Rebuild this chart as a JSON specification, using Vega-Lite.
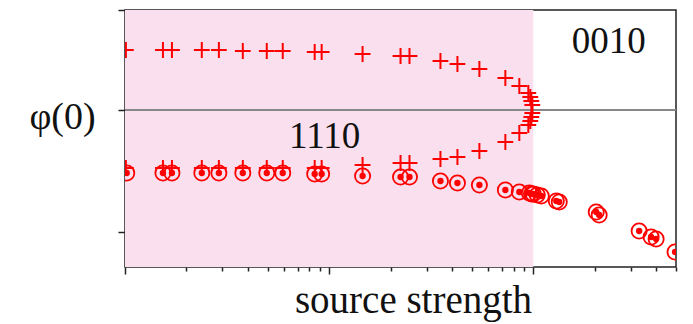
{
  "$schema": "https://vega.github.io/schema/vega-lite/v6.json",
  "width": 551,
  "height": 257,
  "autosize": {"type": "none"},
  "padding": {"left": 125, "top": 10, "right": 17, "bottom": 57},
  "background": "white",
  "config": {
    "view": {"stroke": "#222222", "strokeWidth": 1.5},
    "font": "Liberation Serif"
  },
  "datasets": {
    "pts": [
      {"s": 0.0101, "phi": 0.60, "kind": "plus"},
      {"s": 0.01534, "phi": 0.60, "kind": "plus"},
      {"s": 0.01698, "phi": 0.60, "kind": "plus"},
      {"s": 0.02378, "phi": 0.60, "kind": "plus"},
      {"s": 0.02883, "phi": 0.60, "kind": "plus"},
      {"s": 0.03776, "phi": 0.59, "kind": "plus"},
      {"s": 0.04948, "phi": 0.59, "kind": "plus"},
      {"s": 0.05925, "phi": 0.59, "kind": "plus"},
      {"s": 0.08494, "phi": 0.58, "kind": "plus"},
      {"s": 0.0919, "phi": 0.58, "kind": "plus"},
      {"s": 0.1458, "phi": 0.56, "kind": "plus"},
      {"s": 0.2237, "phi": 0.54, "kind": "plus"},
      {"s": 0.2475, "phi": 0.54, "kind": "plus"},
      {"s": 0.3509, "phi": 0.49, "kind": "plus"},
      {"s": 0.425, "phi": 0.46, "kind": "plus"},
      {"s": 0.5444, "phi": 0.41, "kind": "plus"},
      {"s": 0.7296, "phi": 0.32, "kind": "plus"},
      {"s": 0.8541, "phi": 0.24, "kind": "plus"},
      {"s": 0.9454, "phi": 0.17, "kind": "plus"},
      {"s": 0.9667, "phi": 0.13, "kind": "plus"},
      {"s": 0.9777, "phi": 0.09, "kind": "plus"},
      {"s": 0.9888, "phi": 0.05, "kind": "plus"},
      {"s": 0.9888, "phi": -0.03, "kind": "plus"},
      {"s": 0.9777, "phi": -0.07, "kind": "plus"},
      {"s": 0.9667, "phi": -0.11, "kind": "plus"},
      {"s": 0.9454, "phi": -0.15, "kind": "plus"},
      {"s": 0.8541, "phi": -0.23, "kind": "plus"},
      {"s": 0.7296, "phi": -0.32, "kind": "plus"},
      {"s": 0.5444, "phi": -0.41, "kind": "plus"},
      {"s": 0.425, "phi": -0.47, "kind": "plus"},
      {"s": 0.3509, "phi": -0.49, "kind": "plus"},
      {"s": 0.2475, "phi": -0.53, "kind": "plus"},
      {"s": 0.2237, "phi": -0.53, "kind": "plus"},
      {"s": 0.1458, "phi": -0.55, "kind": "plus"},
      {"s": 0.0919, "phi": -0.58, "kind": "plus"},
      {"s": 0.08494, "phi": -0.58, "kind": "plus"},
      {"s": 0.05925, "phi": -0.58, "kind": "plus"},
      {"s": 0.04948, "phi": -0.58, "kind": "plus"},
      {"s": 0.03776, "phi": -0.58, "kind": "plus"},
      {"s": 0.02883, "phi": -0.58, "kind": "plus"},
      {"s": 0.02378, "phi": -0.58, "kind": "plus"},
      {"s": 0.01698, "phi": -0.58, "kind": "plus"},
      {"s": 0.01534, "phi": -0.58, "kind": "plus"},
      {"s": 0.0101, "phi": -0.58, "kind": "plus"},
      {"s": 0.0102, "phi": -0.63, "kind": "circle"},
      {"s": 0.01534, "phi": -0.63, "kind": "circle"},
      {"s": 0.01698, "phi": -0.63, "kind": "circle"},
      {"s": 0.02378, "phi": -0.63, "kind": "circle"},
      {"s": 0.02883, "phi": -0.63, "kind": "circle"},
      {"s": 0.03776, "phi": -0.63, "kind": "circle"},
      {"s": 0.04948, "phi": -0.63, "kind": "circle"},
      {"s": 0.05925, "phi": -0.63, "kind": "circle"},
      {"s": 0.08494, "phi": -0.64, "kind": "circle"},
      {"s": 0.0919, "phi": -0.64, "kind": "circle"},
      {"s": 0.1458, "phi": -0.66, "kind": "circle"},
      {"s": 0.2237, "phi": -0.67, "kind": "circle"},
      {"s": 0.2475, "phi": -0.67, "kind": "circle"},
      {"s": 0.3509, "phi": -0.71, "kind": "circle"},
      {"s": 0.425, "phi": -0.73, "kind": "circle"},
      {"s": 0.5444, "phi": -0.75, "kind": "circle"},
      {"s": 0.7296, "phi": -0.80, "kind": "circle"},
      {"s": 0.8541, "phi": -0.82, "kind": "circle"},
      {"s": 0.956, "phi": -0.83, "kind": "circle"},
      {"s": 0.98, "phi": -0.84, "kind": "circle"},
      {"s": 1.0, "phi": -0.84, "kind": "circle"},
      {"s": 1.046, "phi": -0.85, "kind": "circle"},
      {"s": 1.094, "phi": -0.86, "kind": "circle"},
      {"s": 1.296, "phi": -0.91, "kind": "circle"},
      {"s": 1.34, "phi": -0.92, "kind": "circle"},
      {"s": 2.033, "phi": -1.02, "kind": "circle"},
      {"s": 2.102, "phi": -1.05, "kind": "circle"},
      {"s": 3.299, "phi": -1.21, "kind": "circle"},
      {"s": 3.776, "phi": -1.27, "kind": "circle"},
      {"s": 3.996, "phi": -1.29, "kind": "circle"},
      {"s": 4.947, "phi": -1.42, "kind": "circle"}
    ]
  },
  "data": {"name": "pts"},
  "encoding": {
    "x": {
      "field": "s",
      "type": "quantitative",
      "scale": {"type": "log", "domain": [0.01, 5], "nice": false},
      "axis": {
        "values": [0.01, 0.02, 0.03, 0.04, 0.05, 0.06, 0.07, 0.08, 0.09, 0.1, 0.2, 0.3, 0.4, 0.5, 0.6, 0.7, 0.8, 0.9, 1, 2, 3, 4, 5],
        "labels": false,
        "grid": false,
        "domain": false,
        "ticks": true,
        "tickColor": "#222222",
        "tickWidth": 1.5,
        "tickSize": {"condition": {"test": "datum.value == 0.01 || datum.value == 0.1 || datum.value == 1", "value": 7}, "value": 4},
        "title": "source strength",
        "titleFont": "Liberation Serif",
        "titleFontSize": 39,
        "titleFontWeight": "normal",
        "titleColor": "#111111",
        "titleX": 288,
        "titleY": 45,
        "titleBaseline": "alphabetic",
        "titleAlign": "center"
      }
    },
    "y": {
      "field": "phi",
      "type": "quantitative",
      "scale": {"domain": [-1.57, 1], "nice": false, "zero": false},
      "axis": {
        "values": [1, 0, -1.22],
        "labels": false,
        "grid": false,
        "domain": false,
        "tickColor": "#222222",
        "tickWidth": 1.5,
        "tickSize": 7,
        "title": "φ(0)",
        "titleFont": "Liberation Serif",
        "titleFontSize": 38,
        "titleFontWeight": "normal",
        "titleColor": "#111111",
        "titleAngle": 0,
        "titleX": -63,
        "titleY": 118,
        "titleBaseline": "alphabetic",
        "titleAlign": "center"
      }
    }
  },
  "layer": [
    {
      "data": {"values": [{"s": 0.01, "s2": 1.0, "phi": 1, "phi2": -1.57}]},
      "mark": {"type": "rect", "fill": "#fae0ee", "opacity": 1},
      "encoding": {
        "x2": {"field": "s2"},
        "y2": {"field": "phi2"}
      }
    },
    {
      "data": {"values": [{"s": 0.01, "s2": 5, "phi": 0}]},
      "mark": {"type": "rule", "color": "#888888", "strokeWidth": 2},
      "encoding": {
        "x2": {"field": "s2"}
      }
    },
    {
      "transform": [{"filter": "datum.kind == 'circle'"}],
      "mark": {"type": "point", "shape": "circle", "filled": false, "stroke": "#ff0000", "strokeWidth": 1.8, "size": 230, "opacity": 1, "clip": true}
    },
    {
      "transform": [{"filter": "datum.kind == 'circle'"}],
      "mark": {"type": "point", "shape": "circle", "filled": true, "color": "#ff0000", "size": 40, "opacity": 1, "clip": true}
    },
    {
      "transform": [{"filter": "datum.kind == 'plus'"}],
      "mark": {"type": "point", "shape": "M-1,0L1,0M0,-1L0,1", "filled": false, "stroke": "#ff0000", "strokeWidth": 2, "size": 250, "opacity": 1, "clip": true}
    },
    {
      "data": {"values": [{"s": 0.0951, "phi": -0.38, "label": "1110"}, {"s": 2.34, "phi": 0.57, "label": "0010"}]},
      "mark": {"type": "text", "font": "Liberation Serif", "fontSize": 37, "color": "#111111", "align": "center", "baseline": "alphabetic"},
      "encoding": {"text": {"field": "label"}}
    }
  ]
}
